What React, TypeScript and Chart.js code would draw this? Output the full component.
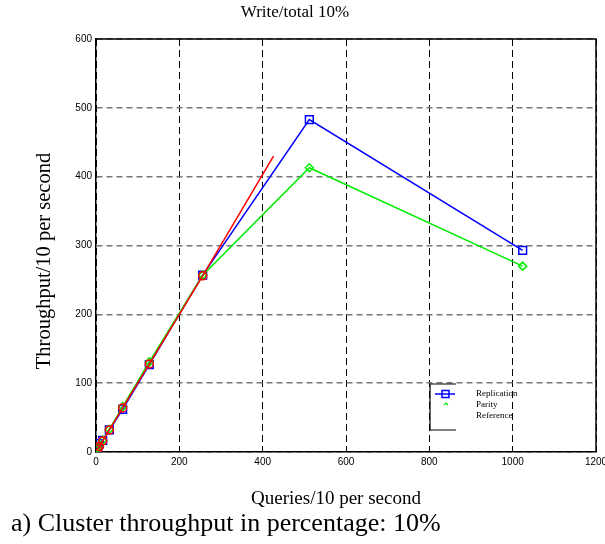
import React, { useEffect, useRef } from "react";
import { Chart, registerables } from "chart.js";

Chart.register(...registerables);

const chartTitle = "Write/total 10%";
const xAxisTitle = "Queries/10 per second";
const yAxisTitle = "Throughput/10 per second";
const caption = "a) Cluster throughput in percentage: 10%";

const queries = [4, 8, 16, 32, 64, 128, 256, 512, 1024];
const replication = [6, 12, 17, 32, 62, 127, 257, 483, 293];
const parity = [5, 10, 17, 33, 66, 131, 257, 413, 270];
const referenceX = [4, 8, 16, 32, 64, 128, 256, 426];
const referenceY = [4, 8, 16, 32, 64, 128, 256, 430];
const seriesNames = ["Replication", "Parity", "Reference"];

const serif = "'Liberation Serif', 'Times New Roman', serif";
const sans = "'Liberation Sans', Arial, sans-serif";

const textPlugin = {
  id: "textPlugin",
  afterDraw(chart: any) {
    const { ctx, chartArea } = chart;
    const { left, right, top, bottom } = chartArea;
    ctx.save();
    ctx.strokeStyle = "#000";
    ctx.lineWidth = 1.5;
    ctx.beginPath();
    ctx.moveTo(left, top);
    ctx.lineTo(right, top);
    ctx.lineTo(right, bottom);
    ctx.stroke();

    ctx.fillStyle = "#000";
    ctx.textBaseline = "middle";
    ctx.textAlign = "center";
    ctx.font = `17px ${serif}`;
    ctx.fillText(chartTitle, 295, 13);
    ctx.font = `19px ${serif}`;
    ctx.fillText(xAxisTitle, 336, 499);
    ctx.save();
    ctx.translate(45, 261);
    ctx.rotate(-Math.PI / 2);
    ctx.font = `20.5px ${serif}`;
    ctx.fillText(yAxisTitle, 0, 0);
    ctx.restore();
    ctx.textAlign = "left";
    ctx.font = `26px ${serif}`;
    ctx.fillText(caption, 11, 524);

    // legend
    const lx = 430, ly = 384, lw = 26, lh = 46;
    ctx.strokeStyle = "#000";
    ctx.lineWidth = 1.2;
    ctx.fillStyle = "#fff";
    ctx.fillRect(lx, ly, lw, lh);
    ctx.beginPath();
    ctx.moveTo(lx + lw, ly);
    ctx.lineTo(lx, ly);
    ctx.lineTo(lx, ly + lh);
    ctx.lineTo(lx + lw, ly + lh);
    ctx.stroke();
    ctx.strokeStyle = "#0000ff";
    ctx.lineWidth = 1.5;
    ctx.beginPath();
    ctx.moveTo(lx + 5, ly + 10);
    ctx.lineTo(lx + 25, ly + 10);
    ctx.stroke();
    ctx.strokeRect(lx + 12, ly + 6.5, 7, 7);
    ctx.strokeStyle = "#00ee00";
    ctx.lineWidth = 1.2;
    ctx.beginPath();
    ctx.moveTo(lx + 14, ly + 21);
    ctx.lineTo(lx + 16, ly + 19);
    ctx.lineTo(lx + 18, ly + 21);
    ctx.stroke();

    ctx.fillStyle = "#000";
    ctx.font = `9px ${serif}`;
    ctx.fillText(seriesNames[0], 476, 394);
    ctx.fillText(seriesNames[1], 476, 405);
    ctx.fillText(seriesNames[2], 476, 416);
    ctx.restore();
  },
};

export default function App() {
  const ref = useRef<HTMLCanvasElement>(null);
  useEffect(() => {
    if (!ref.current) return;
    const chart = new Chart(ref.current, {
      type: "line",
      data: {
        datasets: [
          {
            label: seriesNames[0],
            data: queries.map((x, i) => ({ x, y: replication[i] })),
            order: 3,
            borderColor: "#0000ff",
            borderWidth: 1.5,
            pointStyle: "rect",
            pointRadius: 5.5,
            pointBorderColor: "#0000ff",
            pointBackgroundColor: "rgba(0,0,0,0)",
            pointBorderWidth: 1.5,
          },
          {
            label: seriesNames[1],
            data: queries.map((x, i) => ({ x, y: parity[i] })),
            order: 2,
            borderColor: "#00ee00",
            borderWidth: 1.5,
            pointStyle: "rectRot",
            pointRadius: 4,
            pointBorderColor: "#00ee00",
            pointBackgroundColor: "rgba(0,0,0,0)",
            pointBorderWidth: 1.5,
          },
          {
            label: seriesNames[2],
            data: referenceX.map((x, i) => ({ x, y: referenceY[i] })),
            order: 1,
            borderColor: "#ff0000",
            borderWidth: 1.5,
            pointStyle: "circle",
            pointRadius: referenceX.map((_, i) => (i < referenceX.length - 1 ? 4 : 0)),
            pointBorderColor: "#ff0000",
            pointBackgroundColor: "rgba(0,0,0,0)",
            pointBorderWidth: 1.5,
          },
        ],
      },
      options: {
        animation: false,
        responsive: false,
        layout: { padding: { top: 39, right: 9, left: 0, bottom: 0 } },
        plugins: { legend: { display: false }, title: { display: false }, tooltip: { enabled: false } },
        scales: {
          x: {
            type: "linear",
            min: 0,
            max: 1200,
            ticks: {
              stepSize: 200,
              color: "#000",
              font: { family: sans, size: 10 },
              padding: 4,
              maxRotation: 0,
              callback: (v: any) => String(v),
            },
            grid: { color: "#000", lineWidth: 1, drawTicks: false },
            border: { color: "#000", width: 1.5, dash: [7, 4] },
            afterFit: (s: any) => {
              s.height = 92;
              s.paddingLeft = 0;
              s.paddingRight = 0;
            },
          },
          y: {
            type: "linear",
            min: 0,
            max: 600,
            ticks: { stepSize: 100, color: "#000", font: { family: sans, size: 10 }, padding: 4 },
            grid: { color: "#777", lineWidth: 1.5, drawTicks: false },
            border: { color: "#000", width: 1.5, dash: [6, 4] },
            afterFit: (s: any) => {
              s.width = 96;
              s.paddingTop = 0;
              s.paddingBottom = 0;
            },
          },
        },
      },
      plugins: [textPlugin],
    });
    return () => chart.destroy();
  }, []);
  return (
    <div style={{ position: "absolute", left: 0, top: 0, width: 605, height: 544, background: "#fff" }}>
      <canvas ref={ref} width={605} height={544} />
    </div>
  );
}
